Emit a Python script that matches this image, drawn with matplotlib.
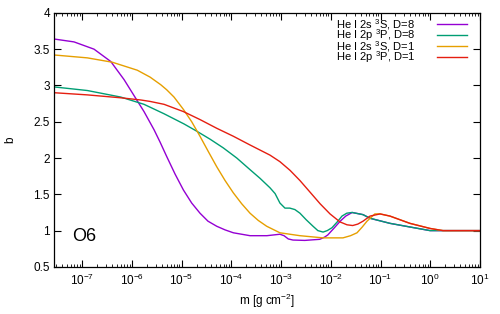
import matplotlib
matplotlib.use("Agg")
import matplotlib.pyplot as plt
from matplotlib.lines import Line2D

plt.rcParams['font.family'] = ['Liberation Sans', 'DejaVu Sans']
plt.rcParams['mathtext.fontset'] = 'custom'
plt.rcParams['mathtext.rm'] = 'Liberation Sans'
plt.rcParams['mathtext.it'] = 'Liberation Sans'
plt.rcParams['mathtext.bf'] = 'Liberation Sans'

# Series: He I 2s 3S, D=8 (purple)
m_s8 = [2.73e-8, 6.9e-8, 1.74e-7, 3.78e-7, 7.0e-7, 1.11e-6, 1.76e-6, 2.8e-6, 3.7e-6, 5.04e-6,
        7.4e-6, 1.09e-5, 1.6e-5, 2.35e-5, 3.4e-5, 5.1e-5, 7.5e-5, 1.1e-4, 2.38e-4,
        5.2e-4, 9.5e-4, 1.15e-3, 1.4e-3, 1.74e-3, 3.0e-3, 6.0e-3, 7.5e-3, 8.7e-3, 1.15e-2,
        1.55e-2, 2.0e-2, 2.7e-2, 4.45e-2, 6.15e-2, 0.155, 0.39, 0.99, 1.8, 10.0]
b_s8 = [3.64, 3.60, 3.50, 3.33, 3.08, 2.86, 2.64, 2.39, 2.22, 2.02,
        1.78, 1.56, 1.38, 1.24, 1.13, 1.06, 1.01, 0.97, 0.93,
        0.93, 0.95, 0.93, 0.885, 0.87, 0.865, 0.88, 0.91, 0.94, 1.03,
        1.13, 1.20, 1.25, 1.22, 1.17, 1.10, 1.05, 1.00, 1.0, 1.0]

# Series: He I 2p 3P, D=8 (green)
m_p8 = [2.73e-8, 1.28e-7, 6.0e-7, 1.76e-6, 4.45e-6, 1.12e-5, 2.02e-5, 3.74e-5, 6.9e-5, 1.29e-4,
        2.38e-4, 3.79e-4, 6.0e-4, 7.6e-4, 9.5e-4, 1.2e-3, 1.5e-3, 1.9e-3, 2.4e-3,
        3.2e-3, 4.4e-3, 5.5e-3, 7.0e-3, 8.5e-3, 1.06e-2, 1.35e-2, 1.68e-2, 2.1e-2, 2.67e-2,
        4.45e-2, 6.15e-2, 0.155, 0.39, 0.99, 1.8, 10.0]
b_p8 = [2.98, 2.93, 2.84, 2.74, 2.61, 2.47, 2.37, 2.26, 2.14, 2.00,
        1.84, 1.72, 1.59, 1.51, 1.38, 1.31, 1.31, 1.29, 1.24,
        1.15, 1.06, 1.00, 0.98, 1.00, 1.04, 1.12, 1.20, 1.24, 1.25,
        1.22, 1.17, 1.10, 1.05, 1.00, 1.0, 1.0]

# Series: He I 2s 3S, D=1 (orange)
m_s1 = [2.73e-8, 1.28e-7, 4.06e-7, 1.29e-6, 2.33e-6, 3.82e-6, 5.04e-6, 7.06e-6, 1.09e-5, 1.6e-5,
        2.35e-5, 3.45e-5, 5.1e-5, 7.5e-5, 1.1e-4, 1.62e-4, 2.38e-4, 3.49e-4, 5.15e-4, 9.5e-4,
        2.4e-3, 7.0e-3, 1.76e-2, 2.5e-2, 3.37e-2, 4.3e-2, 5.35e-2, 7.7e-2, 9.8e-2, 0.155,
        0.39, 0.99, 1.8, 10.0]
b_s1 = [3.42, 3.38, 3.32, 3.21, 3.115, 3.01, 2.94, 2.84, 2.67, 2.50,
        2.30, 2.09, 1.88, 1.69, 1.52, 1.37, 1.24, 1.14, 1.06, 0.97,
        0.93, 0.90, 0.90, 0.93, 0.97, 1.05, 1.13, 1.23, 1.23, 1.20,
        1.10, 1.03, 1.00, 1.0]

# Series: He I 2p 3P, D=1 (red)
m_p1 = [2.73e-8, 1.28e-7, 6.0e-7, 1.51e-6, 2.33e-6, 4.45e-6, 1.09e-5, 2.35e-5, 5.1e-5, 1.1e-4,
        2.38e-4, 6.0e-4, 9.5e-4, 1.52e-3, 2.4e-3, 3.83e-3, 6.1e-3, 9.66e-3, 1.53e-2, 2.12e-2,
        2.76e-2, 3.5e-2, 4.45e-2, 6.15e-2, 9.8e-2, 0.155, 0.39, 0.99, 1.8, 10.0]
b_p1 = [2.90, 2.87, 2.83, 2.80, 2.78, 2.74, 2.64, 2.53, 2.41, 2.30,
        2.18, 2.04, 1.95, 1.83, 1.69, 1.53, 1.37, 1.23, 1.12, 1.08,
        1.07, 1.09, 1.13, 1.20, 1.23, 1.20, 1.10, 1.03, 1.00, 1.0]

labels = [r"He I 2s $^3$S, D=8", r"He I 2p $^3$P, D=8",
          r"He I 2s $^3$S, D=1", r"He I 2p $^3$P, D=1"]
colors = ["#9400d3", "#009e73", "#e69f00", "#e51e10"]

x_ticks = [1e-7, 1e-6, 1e-5, 1e-4, 1e-3, 1e-2, 1e-1, 1e0, 1e1]
y_ticks = [0.5, 1, 1.5, 2, 2.5, 3, 3.5, 4]
y_ticklabels = ["0.5", "1", "1.5", "2", "2.5", "3", "3.5", "4"]

fig = plt.figure(figsize=(5.0, 3.14), dpi=100)
ax = fig.add_axes([0.108, 0.150, 0.852, 0.809])

series = [(m_s8, b_s8), (m_p8, b_p8), (m_s1, b_s1), (m_p1, b_p1)]
for (xs, ys), c in zip(series, colors):
    ax.plot(xs, ys, color=c, lw=1.0, solid_joinstyle='round')

ax.set_xscale('log')
ax.set_xlim(2.73e-8, 10)
ax.set_ylim(0.5, 4)
ax.set_xticks(x_ticks)
ax.set_yticks(y_ticks)
ax.set_yticklabels(y_ticklabels)
ax.tick_params(axis='both', which='both', direction='in', top=True, right=True,
               labelsize=8.5)
ax.tick_params(axis='y', pad=3)
ax.tick_params(axis='x', pad=4)
ax.tick_params(axis='both', which='major', length=5, width=0.8)
ax.tick_params(axis='x', which='minor', length=2.5, width=0.6)
ax.set_xlabel(r"m [g cm$^{-2}$]", fontsize=8.5, labelpad=3)
ax.set_ylabel("b", fontsize=8.5, labelpad=12)
for s in ax.spines.values():
    s.set_linewidth(0.9)

ax.text(0.042, 0.118, "O6", transform=ax.transAxes, fontsize=13,
        ha='left', va='center')

# key (gnuplot style: text then line sample)
for i, (lab, c) in enumerate(zip(labels, colors)):
    yy = 0.955 - i * 0.043
    ax.text(0.662, yy, lab, transform=ax.transAxes, fontsize=8,
            ha='left', va='center')
    ax.add_line(Line2D([0.898, 0.970], [yy, yy], transform=ax.transAxes,
                       color=c, lw=1.0))

fig.savefig("out.png", dpi=100)
